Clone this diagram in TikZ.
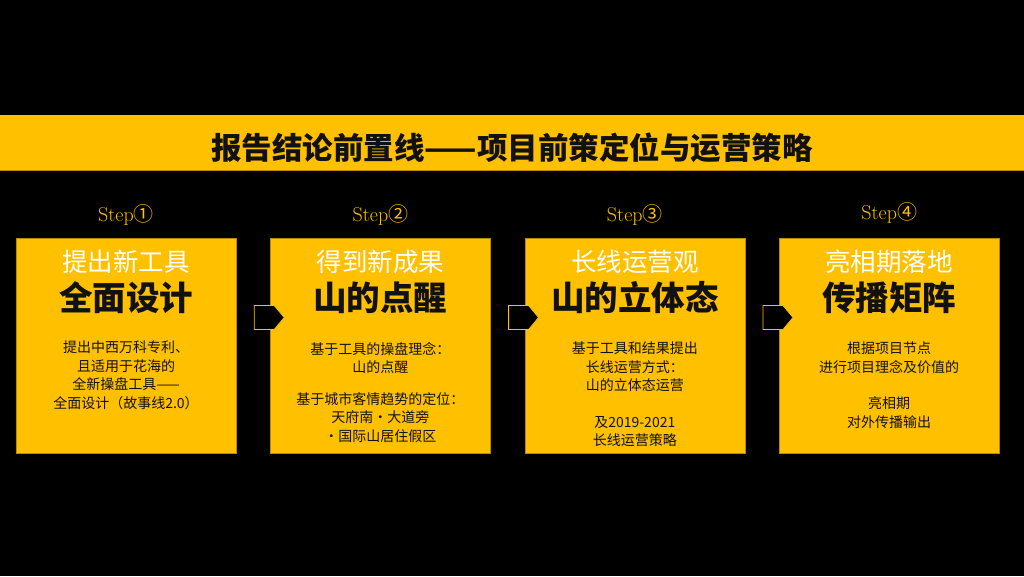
\documentclass[tikz,border=0pt]{standalone}
\usepackage{fontspec}
\usepackage{tikz}
\usetikzlibrary{positioning,calc,shapes.symbols}
\newfontfamily\cjk{Noto Sans CJK SC}
\definecolor{SGold}{HTML}{FFC000}
\definecolor{SEdge}{HTML}{B88A00}
\definecolor{SInk}{HTML}{111111}

\begin{document}
\begin{tikzpicture}[x=1pt, y=-1pt,
    node distance=34pt,
    card/.style={draw=SEdge, fill=SGold, minimum width=220pt, minimum height=215pt, inner sep=0pt},
    steplabel/.style={text=SGold, inner sep=0pt, font=\fontsize{20}{20}\selectfont},
    head/.style={text=white, inner sep=0pt, font=\cjk\fontsize{25.5}{25.5}\selectfont},
    big/.style={text=SInk, inner sep=0pt, font=\cjk\bfseries\fontsize{33.5}{33.5}\selectfont},
    body/.style={text=SInk, align=center, anchor=north, inner sep=0pt, font=\cjk\fontsize{14}{18.5}\selectfont},
    pointer/.style={signal, signal to=east, signal pointer angle=100, draw=SGold, fill=black, thick, minimum width=30pt, minimum height=24pt, inner sep=0pt}
  ]
    \useasboundingbox (0,0) rectangle (1024,576);
    \fill[black] (0,0) rectangle (1024,576);

    % banner
    \node[fill=SGold, minimum width=1024pt, minimum height=55pt, inner sep=0pt] (banner) at (512,142.5) {};
    \draw[SEdge, thick] (banner.south west) -- (banner.south east);
    \node[text=SInk, font=\cjk\bfseries\fontsize{30.5}{30.5}\selectfont] (title) at (512,148) {报告结论前置线——项目前策定位与运营策略};

    % cards
    \node[card] (card1) at (126,345.5) {};
    \node[card, right=of card1] (card2) {};
    \node[card, right=of card2] (card3) {};
    \node[card, right=of card3] (card4) {};

    \node[steplabel, above=12pt of card1] (step1) {Step{\cjk ①}};
    \node[steplabel, above=12pt of card2] (step2) {Step{\cjk ②}};
    \node[steplabel, above=12pt of card3] (step3) {Step{\cjk ③}};
    \node[steplabel, above=14pt of card4] (step4) {Step{\cjk ④}};

    \node[head] (head1) at ($(card1.north)+(0,24)$) {提出新工具};
    \node[head] (head2) at ($(card2.north)+(0,24)$) {得到新成果};
    \node[head] (head3) at ($(card3.north)+(0,24)$) {长线运营观};
    \node[head] (head4) at ($(card4.north)+(0,24)$) {亮相期落地};

    \node[big] (big1) at ($(card1.north)+(0,60)$) {全面设计};
    \node[big] (big2) at ($(card2.north)+(0,60)$) {山的点醒};
    \node[big] (big3) at ($(card3.north)+(0,60)$) {山的立体态};
    \node[big] (big4) at ($(card4.north)+(0,60)$) {传播矩阵};

    \node[body] (body1) at ($(card1.north)+(0,103)$) {提出中西万科专利、\\且适用于花海的\\全新操盘工具——\\全面设计（故事线2.0）};
    \node[body] (body2) at ($(card2.north)+(0,104)$) {基于工具的操盘理念：\\山的点醒\\[13pt]基于城市客情趋势的定位：\\天府南·大道旁\\·国际山居住假区};
    \node[body] (body3) at ($(card3.north)+(0,104)$) {基于工具和结果提出\\长线运营方式：\\山的立体态运营\\[18pt]及2019-2021\\长线运营策略};
    \node[body] (body4) at ($(card4.north)+(0,104)$) {根据项目节点\\进行项目理念及价值的\\[18pt]亮相期\\对外传播输出};

    % pointers between cards
    \node[pointer] (ptr12) at ($(card2.west)+(-6,-28)$) {};
    \node[pointer] (ptr23) at ($(card3.west)+(-6,-28)$) {};
    \node[pointer] (ptr34) at ($(card4.west)+(-6,-28)$) {};
  \end{tikzpicture}
\end{document}
